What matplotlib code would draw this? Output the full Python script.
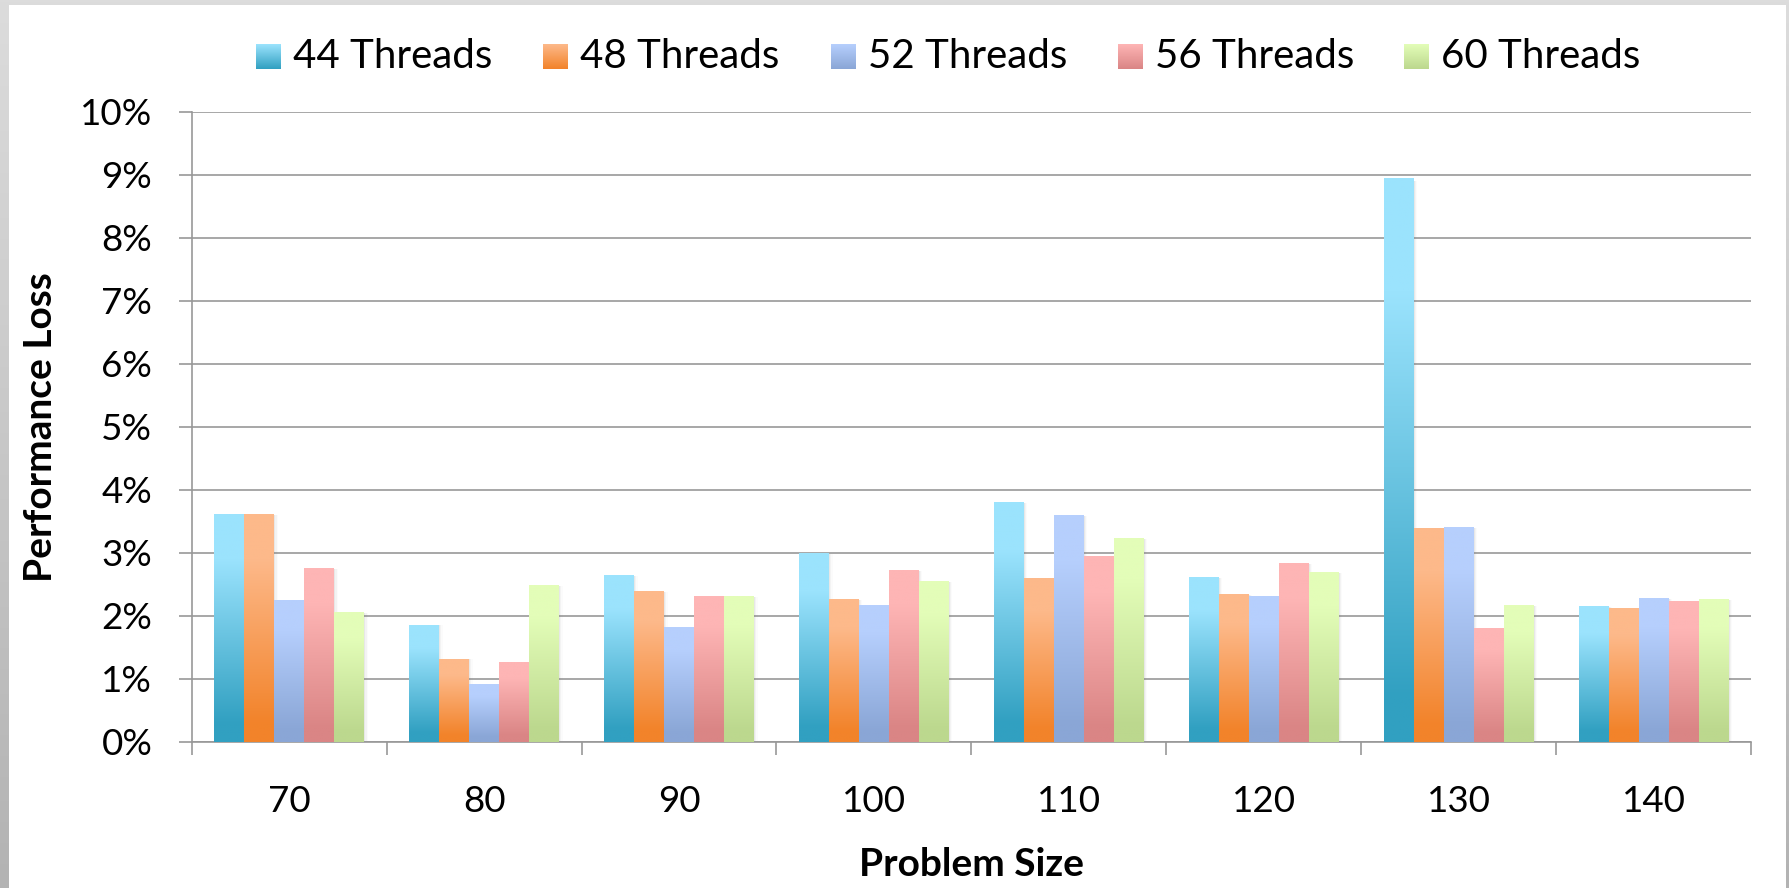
import numpy as np
import matplotlib
matplotlib.use('Agg')
import matplotlib.pyplot as plt
from matplotlib.colors import LinearSegmentedColormap
from matplotlib.patches import Rectangle

plt.rcParams['font.family'] = ['Lato', 'DejaVu Sans']

# ── Data ────────────────────────────────────────────────────
sizes = ['70', '80', '90', '100', '110', '120', '130', '140']
series = ['44 Threads', '48 Threads', '52 Threads', '56 Threads', '60 Threads']
t44 = [3.62, 1.86, 2.65, 2.99, 3.80, 2.61, 8.94, 2.15]
t48 = [3.62, 1.32, 2.39, 2.26, 2.60, 2.34, 3.39, 2.12]
t52 = [2.25, 0.92, 1.82, 2.17, 3.60, 2.31, 3.41, 2.28]
t56 = [2.76, 1.27, 2.31, 2.72, 2.95, 2.84, 1.81, 2.23]
t60 = [2.06, 2.49, 2.31, 2.55, 3.23, 2.69, 2.17, 2.26]
values = [t44, t48, t52, t56, t60]

# gradient (top, bottom) per series
grads = [('#9be3fd', '#31a0c1'),
         ('#fdb98a', '#f2832a'),
         ('#b6cffd', '#8aa6d6'),
         ('#feb5b5', '#da8585'),
         ('#e3fdb8', '#bcd88e')]

W, H = 1789, 888
fig = plt.figure(figsize=(W / 100, H / 100), dpi=100)

# ── Frame background ────────────────────────────────────────
bg = fig.add_axes([0, 0, 1, 1], zorder=-10)
bg_cmap = LinearSegmentedColormap.from_list('bg', ['#dcdcdc', '#b3b3b3'])
bg.imshow(np.linspace(0, 1, 256).reshape(-1, 1), cmap=bg_cmap, aspect='auto',
          extent=[0, W, H, 0])
bg.add_patch(Rectangle((9, 5), 1786 - 9, H - 5, facecolor='white',
                       edgecolor='none'))
bg.set_xlim(0, W)
bg.set_ylim(H, 0)
bg.axis('off')

# ── Main axes ───────────────────────────────────────────────
x0, x1 = 191.7, 1751
y_top, y_bot = 111.7, 741.7
ax = fig.add_axes([x0 / W, 1 - y_bot / H, (x1 - x0) / W, (y_bot - y_top) / H])
ax.set_facecolor('none')

n = len(series)
width = 1 / 6.5
x = np.arange(1, len(sizes) + 1)
grid_c = '#989898'

# row 0 of the image sits at the top of each bar
grad = np.linspace(1, 0, 256).reshape(-1, 1)

for i, (vals, (c_top, c_bot)) in enumerate(zip(values, grads)):
    offs = (i - (n - 1) / 2) * width
    bars = ax.bar(x + offs, vals, width, facecolor='none', edgecolor='none',
                  zorder=3, label=series[i])
    cmap = LinearSegmentedColormap.from_list(
        f'g{i}', [(0, c_bot), (0.08, c_bot), (0.8, c_top), (1, c_top)])
    for b in bars:
        bx, bw, bh = b.get_x(), b.get_width(), b.get_height()
        # soft shadow on the right side
        for k, a in enumerate([0.10, 0.06, 0.03]):
            ax.add_patch(Rectangle((bx + bw, 0), bw * 0.04 * (k + 1), bh * 0.995,
                                   facecolor='#808080', alpha=a, edgecolor='none',
                                   zorder=2))
        im = ax.imshow(grad, cmap=cmap, aspect='auto',
                       extent=[bx, bx + bw, 0, bh], zorder=3, vmin=0, vmax=1)
        im.set_clip_path(b)

ax.set_xlim(0.5, len(sizes) + 0.5)
ax.set_ylim(0, 10)
ax.set_yticks(np.arange(0, 11, 1))
ax.set_yticklabels([f'{v}%' for v in range(0, 11)])
ax.yaxis.grid(True, color=grid_c, linewidth=1.2, zorder=0)
ax.set_axisbelow(True)

ax.set_xticks(x)
ax.set_xticklabels(sizes)
ax.set_xticks(np.arange(0.5, len(sizes) + 1, 1), minor=True)
ax.tick_params(axis='x', which='major', length=0, pad=31, labelsize=26.5)
ax.tick_params(axis='x', which='minor', length=9.4, width=1.2, color=grid_c)
ax.tick_params(axis='y', length=9.4, width=1.2, color=grid_c, pad=19,
               labelsize=26.5)

for s in ['top', 'right']:
    ax.spines[s].set_visible(False)
for s in ['left', 'bottom']:
    ax.spines[s].set_color(grid_c)
    ax.spines[s].set_linewidth(1.2)

ax.set_ylabel('Performance Loss', fontsize=28, fontweight='bold', labelpad=16)
ax.set_xlabel('Problem Size', fontsize=28, fontweight='bold', labelpad=21)

# ── Legend (manual, gradient swatches) ──────────────────────
leg_x = [256, 543, 831, 1118, 1404]
for i, (lbl, (c_top, c_bot)) in enumerate(zip(series, grads)):
    sx = leg_x[i]
    sw = fig.add_axes([sx / W, 1 - 69 / H, 25 / W, 25 / H])
    cmap = LinearSegmentedColormap.from_list(f'l{i}', [c_top, c_bot])
    sw.imshow(np.linspace(0, 1, 64).reshape(-1, 1), cmap=cmap, aspect='auto')
    sw.axis('off')
    fig.text((sx + 37) / W, 1 - 56 / H, lbl, fontsize=29, va='center',
             ha='left')

plt.savefig('out.png', dpi=100)
